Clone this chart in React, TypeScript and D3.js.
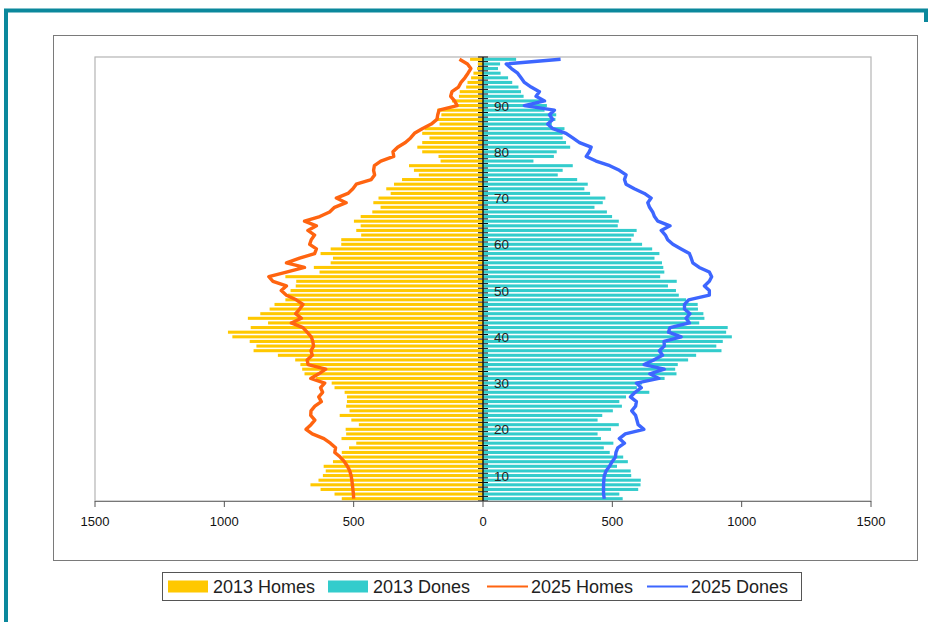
import * as d3 from "d3"

// age categories, bottom to top (the last one is "100 and over")
const ages = [
  5, 6, 7, 8, 9, 10, 11, 12, 13, 14, 15, 16, 17, 18, 19, 20, 21, 22, 23, 24,
  25, 26, 27, 28, 29, 30, 31, 32, 33, 34, 35, 36, 37, 38, 39, 40, 41, 42, 43, 44,
  45, 46, 47, 48, 49, 50, 51, 52, 53, 54, 55, 56, 57, 58, 59, 60, 61, 62, 63, 64,
  65, 66, 67, 68, 69, 70, 71, 72, 73, 74, 75, 76, 77, 78, 79, 80, 81, 82, 83, 84,
  85, 86, 87, 88, 89, 90, 91, 92, 93, 94, 95, 96, 97, 98, 99, 100,
]

const homes2013 = [
  546, 574, 628, 667, 636, 619, 608, 616, 580, 544, 546, 518, 490, 547, 529, 531, 480, 509, 554, 516,
  529, 526, 526, 535, 574, 585, 645, 690, 699, 706, 726, 793, 887, 876, 902, 969, 986, 898, 831, 909,
  861, 825, 806, 764, 754, 744, 724, 722, 764, 632, 654, 589, 580, 628, 589, 548, 548, 471, 490, 473,
  499, 473, 428, 396, 424, 404, 357, 374, 344, 313, 248, 267, 286, 164, 172, 235, 254, 235, 207, 235,
  226, 168, 183, 161, 177, 101, 120, 93, 90, 65, 60, 46, 37, 23, 20, 50,
]

const dones2013 = [
  540, 527, 600, 609, 610, 573, 571, 518, 560, 542, 490, 467, 504, 456, 443, 495, 525, 443, 461, 502,
  537, 527, 553, 643, 595, 615, 702, 748, 743, 753, 793, 824, 922, 902, 927, 962, 940, 946, 836, 856,
  852, 831, 830, 785, 757, 746, 715, 749, 685, 701, 697, 692, 663, 682, 654, 615, 573, 583, 594, 521,
  525, 499, 479, 431, 463, 473, 414, 392, 405, 364, 289, 308, 347, 195, 274, 285, 337, 321, 308, 308,
  315, 266, 280, 283, 238, 247, 234, 157, 147, 137, 113, 97, 68, 58, 66, 128,
]

const homes2025 = [
  500, 501, 503, 505, 507, 510, 515, 524, 536, 552, 573, 570, 590, 615, 660, 684, 665, 650, 666, 665,
  650, 625, 635, 620, 628, 612, 666, 635, 608, 676, 680, 660, 665, 655, 658, 664, 680, 696, 741, 702,
  724, 709, 696, 722, 760, 780, 760, 812, 828, 760, 690, 760, 709, 651, 644, 670, 664, 651, 677, 644,
  690, 631, 593, 574, 529, 567, 522, 503, 490, 432, 419, 423, 420, 395, 345, 348, 330, 300, 280, 265,
  235, 200, 178, 175, 170, 100, 110, 125, 120, 95, 85, 70, 58, 47, 60, 91,
]

const dones2025 = [
  469, 466, 466, 466, 467, 469, 476, 489, 499, 512, 514, 521, 547, 527, 550, 622, 600, 595, 590, 575,
  590, 593, 570, 588, 612, 593, 680, 645, 701, 623, 660, 694, 682, 701, 700, 766, 717, 723, 798, 785,
  800, 779, 779, 795, 875, 875, 856, 875, 884, 875, 836, 811, 805, 798, 766, 734, 714, 705, 689, 723,
  676, 663, 656, 644, 637, 650, 624, 585, 553, 547, 553, 527, 490, 437, 399, 411, 418, 373, 347, 321,
  270, 250, 270, 257, 276, 160, 238, 205, 218, 186, 160, 147, 134, 110, 90, 300,
]

const xTicks = [-1500, -1000, -500, 0, 500, 1000, 1500]
const ageLabels = [10, 20, 30, 40, 50, 60, 70, 80, 90]

const colors = {
  homes2013: "#ffc800",
  dones2013: "#33cccc",
  homes2025: "#ff6410",
  dones2025: "#3d66ff",
}

const legendItems = [
  { label: "2013 Homes", color: colors.homes2013, kind: "bar" },
  { label: "2013 Dones", color: colors.dones2013, kind: "bar" },
  { label: "2025 Homes", color: colors.homes2025, kind: "line" },
  { label: "2025 Dones", color: colors.dones2025, kind: "line" },
]

const font = "'Liberation Sans', Arial, sans-serif"

export default function App() {
  const width = 936
  const height = 622
  const plot = { left: 95, right: 871, top: 57, bottom: 501 }

  const x = d3.scaleLinear([-1500, 1500], [plot.left, plot.right])
  const y = d3
    .scaleBand<number>()
    .domain(ages)
    .range([plot.bottom, plot.top])
    .paddingInner(0.34)
    .paddingOuter(0.17)
  const step = y.step()
  const bw = y.bandwidth()
  const cy = (a: number) => (y(a) ?? 0) + bw / 2

  const homesLine = d3
    .line<number>()
    .x((d) => x(-d))
    .y((_, i) => cy(ages[i]))
  const donesLine = d3
    .line<number>()
    .x((d) => x(d))
    .y((_, i) => cy(ages[i]))

  const x0 = x(0)
  // band boundaries for the small ticks on the centre axis
  const boundaries = ages.map((a) => cy(a) + step / 2).concat([cy(100) - step / 2])

  const legendX = [168, 328, 487, 647]
  const legendTextX = [213, 373, 531, 691]

  return (
    <div style={{ position: "fixed", left: 0, top: 0 }}>
      <svg width={width} height={height} style={{ display: "block", background: "#fff" }}>
        {/* outer teal frame */}
        <g fill="none" stroke="#0b889c" strokeWidth={4}>
          <line x1={4} x2={928} y1={10.5} y2={10.5} />
          <line x1={6} x2={6} y1={9} y2={622} />
          <line x1={926} x2={926} y1={9} y2={22} />
        </g>

        {/* chart box */}
        <rect x={53.5} y={35.5} width={864} height={525} fill="#fff" stroke="#7a7a7a" strokeWidth={1} />
        <rect
          x={plot.left}
          y={plot.top}
          width={plot.right - plot.left}
          height={plot.bottom - plot.top}
          fill="#fff"
          stroke="#b4b4b4"
          strokeWidth={1.2}
        />

        {/* bars */}
        <g fill={colors.homes2013}>
          {ages.map((a, i) => (
            <rect key={a} x={x(-homes2013[i])} y={y(a)} width={x0 - x(-homes2013[i])} height={bw} />
          ))}
        </g>
        <g fill={colors.dones2013}>
          {ages.map((a, i) => (
            <rect key={a} x={x0} y={y(a)} width={x(dones2013[i]) - x0} height={bw} />
          ))}
        </g>

        {/* centre axis */}
        <line x1={x0} x2={x0} y1={plot.top} y2={plot.bottom} stroke="#000" strokeWidth={1.3} />
        <g stroke="#111" strokeWidth={1}>
          {boundaries.map((b, i) => (
            <line key={i} x1={x0 - 5} x2={x0 + 5} y1={b} y2={b} />
          ))}
        </g>
        <g fontFamily={font} fontSize={13.5} fill="#222" dominantBaseline="central">
          {ageLabels.map((a) => (
            <text key={a} x={x0 + 11} y={cy(a) + 0.5}>
              {a}
            </text>
          ))}
        </g>

        {/* 2025 lines */}
        <path
          d={homesLine(homes2025) ?? undefined}
          fill="none"
          stroke={colors.homes2025}
          strokeWidth={3.4}
          strokeLinejoin="round"
        />
        <path
          d={donesLine(dones2025) ?? undefined}
          fill="none"
          stroke={colors.dones2025}
          strokeWidth={3.4}
          strokeLinejoin="round"
        />

        {/* x axis */}
        <line x1={plot.left} x2={plot.right} y1={plot.bottom + 0.5} y2={plot.bottom + 0.5} stroke="#777" strokeWidth={1.2} />
        <g stroke="#555" strokeWidth={1}>
          {xTicks.map((t) => (
            <line key={t} x1={x(t)} x2={x(t)} y1={plot.bottom} y2={plot.bottom + 6} />
          ))}
        </g>
        <g fontFamily={font} fontSize={13} fill="#111" textAnchor="middle">
          {xTicks.map((t) => (
            <text key={t} x={x(t)} y={526}>
              {Math.abs(t)}
            </text>
          ))}
        </g>

        {/* legend */}
        <rect x={162.5} y={572.5} width={639} height={28} fill="#fff" stroke="#555" strokeWidth={1} />
        <g fontFamily={font} fontSize={18} fill="#222">
          {legendItems.map((item, i) => (
            <g key={item.label}>
              {item.kind === "bar" ? (
                <rect x={legendX[i]} y={580.5} width={40} height={12} fill={item.color} />
              ) : (
                <line x1={legendX[i]} x2={legendX[i] + 41} y1={586.5} y2={586.5} stroke={item.color} strokeWidth={2} />
              )}
              <text x={legendTextX[i]} y={593}>
                {item.label}
              </text>
            </g>
          ))}
        </g>
      </svg>
    </div>
  )
}
